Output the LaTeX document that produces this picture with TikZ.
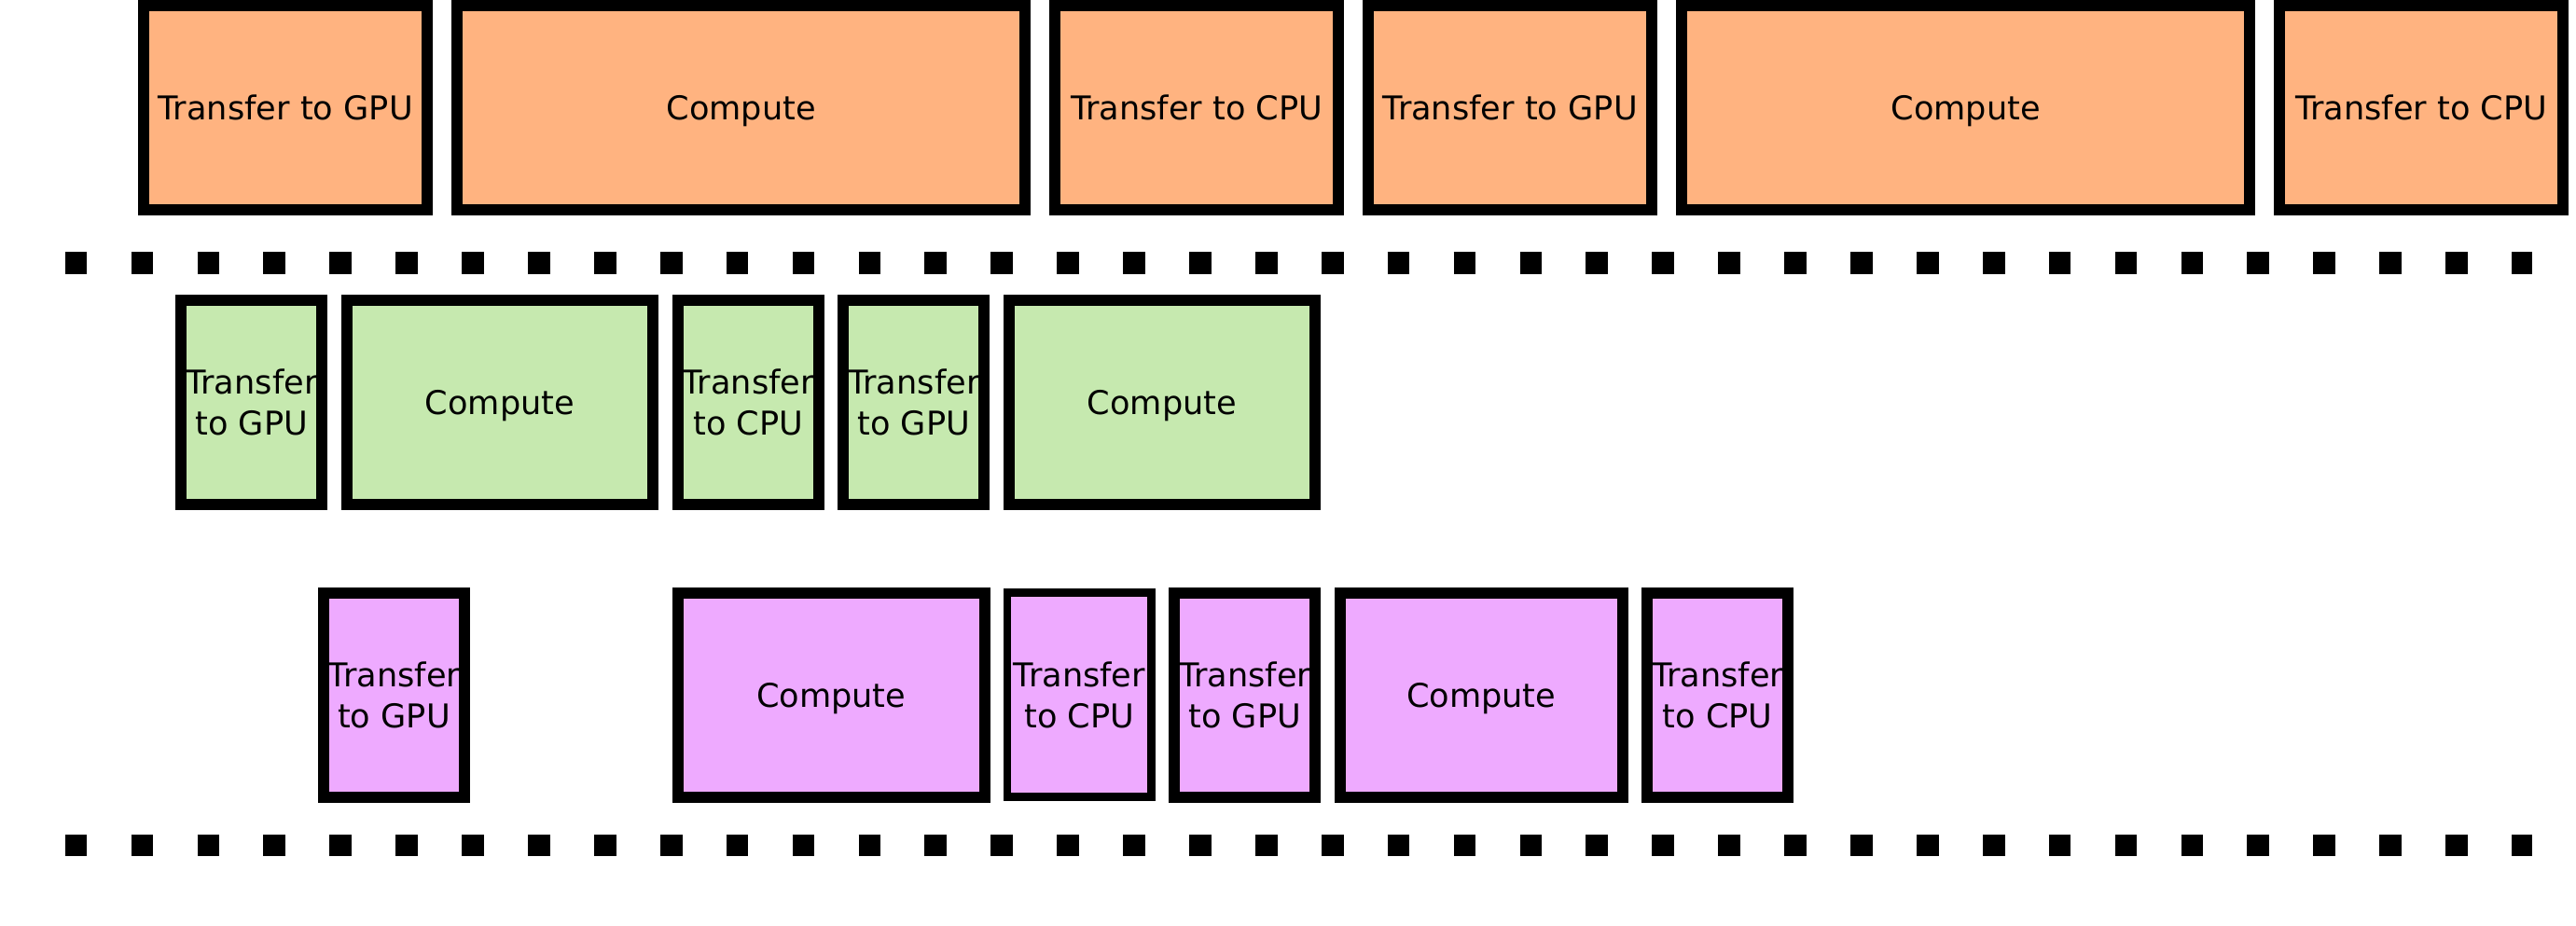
\documentclass[tikz,border=0pt]{standalone}
\usepackage{fontspec}
\setmainfont{DejaVu Sans}
\usetikzlibrary{positioning}
\definecolor{serialfill}{HTML}{FFB380}
\definecolor{streamafill}{HTML}{C6E9AF}
\definecolor{streambfill}{HTML}{EEAAFF}

\begin{document}
\begin{tikzpicture}[node distance=0.145cm, every node/.style={font=\fontsize{10}{12.5}\selectfont}]
  % task boxes share the heavy outline, only width and fill change
  \tikzset{task/.style={draw, line width=0.12cm, inner sep=0pt, minimum height=2.19cm, text depth=0pt, align=center},
    longxfer/.style={task, fill=serialfill, minimum width=3.04cm},
    longkern/.style={task, fill=serialfill, minimum width=6.09cm},
    xfer/.style={task, minimum width=1.51cm},
    kern/.style={task, minimum width=3.285cm},
    divider/.style={line width=0.237cm, dash pattern=on 0.237cm off 0.472cm}}
  \useasboundingbox (0,0) rectangle (27.62,-9.92);

  % serial version, one stream
  \node[longxfer, anchor=north west] (s0htod1) at (1.482,0) {Transfer to GPU};
  \node[longkern, right=0.2cm of s0htod1] (s0kern1) {Compute};
  \node[longxfer, right=0.2cm of s0kern1] (s0dtoh1) {Transfer to CPU};
  \node[longxfer, right=0.2cm of s0dtoh1] (s0htod2) {Transfer to GPU};
  \node[longkern, right=0.2cm of s0htod2] (s0kern2) {Compute};
  \node[longxfer, right=0.2cm of s0kern2] (s0dtoh2) {Transfer to CPU};

  % separator
  \coordinate (d1w) at (0.697,-2.822);
  \coordinate (d1e) at (27.153,-2.822);
  \draw[divider] (d1w) -- (d1e);

  % first stream
  \node[xfer, fill=streamafill, anchor=north west] (s1htod1) at (1.883,-3.157) {Transfer\\to GPU};
  \node[kern, fill=streamafill, right=of s1htod1] (s1kern1) {Compute};
  \node[xfer, fill=streamafill, right=of s1kern1] (s1dtoh1) {Transfer\\to CPU};
  \node[xfer, fill=streamafill, right=of s1dtoh1] (s1htod2) {Transfer\\to GPU};
  \node[kern, fill=streamafill, right=of s1htod2] (s1kern2) {Compute};

  % second stream
  \node[xfer, fill=streambfill, anchor=north west] (s2htod1) at (3.41,-6.295) {Transfer\\to GPU};
  \node[kern, fill=streambfill, right=2.17cm of s2htod1] (s2kern1) {Compute};
  \node[xfer, fill=streambfill, line width=0.083cm, minimum width=1.544cm, right=of s2kern1] (s2dtoh1) {Transfer\\to CPU};
  \node[xfer, fill=streambfill, right=of s2dtoh1] (s2htod2) {Transfer\\to GPU};
  \node[kern, fill=streambfill, minimum width=3.03cm, right=of s2htod2] (s2kern2) {Compute};
  \node[xfer, fill=streambfill, right=of s2kern2] (s2dtoh2) {Transfer\\to CPU};

  % separator
  \coordinate (d2w) at (0.697,-9.065);
  \coordinate (d2e) at (27.153,-9.065);
  \draw[divider] (d2w) -- (d2e);
\end{tikzpicture}
\end{document}
